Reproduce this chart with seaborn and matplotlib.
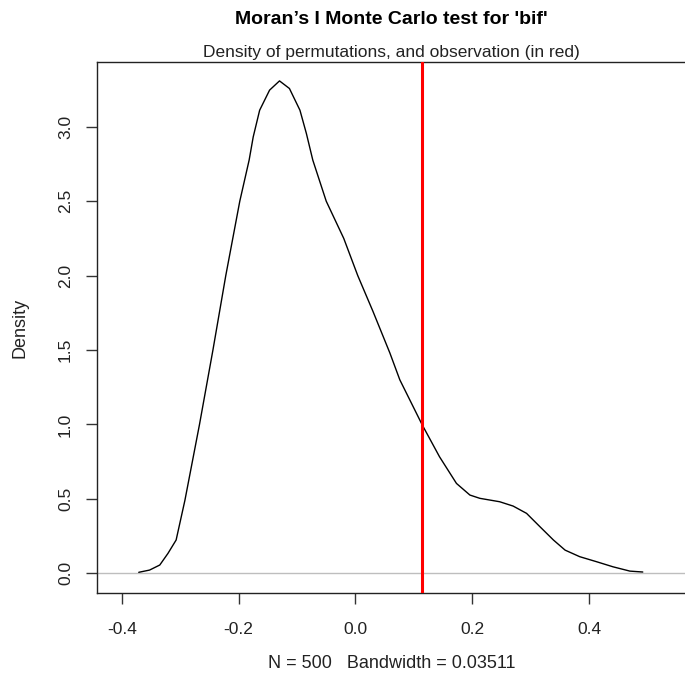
import matplotlib
matplotlib.use("Agg")
import matplotlib.pyplot as plt
import seaborn as sns
import pandas as pd

# density curve of the permutations
perm_x = [-0.371, -0.3525, -0.335, -0.321, -0.307, -0.292, -0.267, -0.244, -0.222,
          -0.198, -0.182, -0.175, -0.164, -0.147, -0.130, -0.113, -0.095, -0.084,
          -0.073, -0.060, -0.050, -0.020, 0.004, 0.030, 0.059, 0.076, 0.095, 0.114,
          0.144, 0.173, 0.196, 0.213, 0.247, 0.270, 0.293, 0.316, 0.339, 0.359,
          0.384, 0.413, 0.441, 0.470, 0.492]
perm_density = [0.007, 0.022, 0.056, 0.134, 0.224, 0.49, 1.0, 1.5, 2.0,
                2.5, 2.776, 2.932, 3.111, 3.246, 3.308, 3.257, 3.111, 2.955,
                2.776, 2.62, 2.50, 2.25, 2.00, 1.76, 1.48, 1.30, 1.15, 1.00,
                0.783, 0.604, 0.526, 0.504, 0.481, 0.452, 0.403, 0.313, 0.224, 0.156,
                0.112, 0.078, 0.044, 0.015, 0.009]
observed = 0.114
x_ticks = [-0.4, -0.2, 0.0, 0.2, 0.4]
y_ticks = [0.0, 0.5, 1.0, 1.5, 2.0, 2.5, 3.0]

title = "Moran\u2019s I Monte Carlo test for 'bif'"
subtitle = "Density of permutations, and observation (in red)"
xlab = "N = 500   Bandwidth = 0.03511"

df = pd.DataFrame({"x": perm_x, "density": perm_density})

sns.set_style("ticks")
plt.rcParams["font.family"] = ["Liberation Sans", "DejaVu Sans"]

fig = plt.figure(figsize=(6.85, 6.82), dpi=100)
ax = fig.add_axes([96.7 / 685, 1 - 593.3 / 682, (686 - 96.7) / 685, (593.3 - 61.7) / 682])

# grey zero line, density curve, red observation
ax.axhline(0, color="#bebebe", lw=1.0, zorder=1)
sns.lineplot(data=df, x="x", y="density", sort=False, color="black", lw=1.0, ax=ax, zorder=2)
ax.axvline(observed, color="red", lw=2.2, zorder=3)

ax.set_xlim(-0.443, 0.566)
ax.set_ylim(-0.134, 3.437)
ax.set_xticks(x_ticks)
ax.set_xticklabels([f"{v:.1f}" for v in x_ticks])
ax.set_yticks(y_ticks)
ax.set_yticklabels([f"{v:.1f}" for v in y_ticks], rotation=90, va="center")
ax.tick_params(direction="out", length=8, width=1, color="#333333", labelsize=12.5,
               labelcolor="#222222")
ax.tick_params(axis="x", pad=12.5)
ax.tick_params(axis="y", pad=9)
for s in ax.spines.values():
    s.set_color("#222222")
    s.set_linewidth(1.0)

ax.set_xlabel(xlab, fontsize=13, color="#222222", labelpad=13)
ax.set_ylabel("Density", fontsize=13, color="#222222", labelpad=21)

cx = (96.7 + 686) / 2 / 685
fig.text(cx, 1 - 19.5 / 682, title, ha="center", va="center", fontsize=14,
         fontweight="bold", color="black")
fig.text(cx, 1 - 53 / 682, subtitle, ha="center", va="center", fontsize=12.5,
         color="#222222")

fig.savefig("out.png", dpi=100)
